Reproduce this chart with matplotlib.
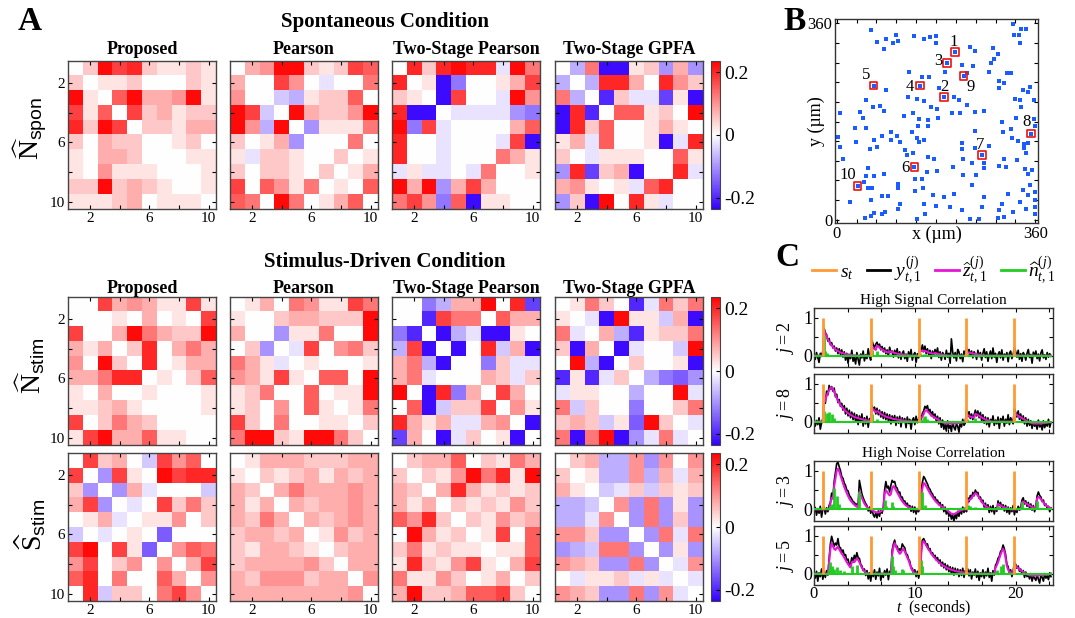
import numpy as np
import matplotlib
matplotlib.use("Agg")
import matplotlib.pyplot as plt
from matplotlib.colors import LinearSegmentedColormap
from matplotlib.lines import Line2D
from matplotlib.ticker import MultipleLocator

plt.rcParams["font.family"] = ["Liberation Serif", "DejaVu Serif"]
plt.rcParams["mathtext.fontset"] = "custom"
plt.rcParams["mathtext.rm"] = "Liberation Serif"
plt.rcParams["mathtext.it"] = "Liberation Serif:italic"
plt.rcParams["mathtext.bf"] = "Liberation Serif:bold"
plt.rcParams["mathtext.sf"] = "Liberation Sans"
plt.rcParams["mathtext.fallback"] = "stix"
plt.rcParams["axes.unicode_minus"] = False

W, H = 1075, 618

# ── A: estimated 10x10 correlation matrices ────────────────────────
# upper triangles only (row i lists columns j > i), matrices are symmetric
# with zero diagonal.  '0'..'9' -> 0 .. +0.225, 'a'..'i' -> -0.025 .. -0.225
LEVELS = {str(d): 0.025 * d for d in range(10)}
LEVELS.update({chr(96 + d): -0.025 * d for d in range(1, 10)})

N_SPON_PROPOSED = ["297821121", "11200021", "6933491", "723122", "22133", "0120", "011", "01", "1"]
N_SPON_PEARSON = ["349921276", "0740a005", "bc12260", "932249", "d1115", "0050", "201", "13", "6"]
N_SPON_TS_PEARSON = ["828988a95", "1ie00137", "i700a94", "aaaade", "00036", "0a7i", "531", "01", "0"]
N_SPON_TS_GPFA = ["c5ii12d3d", "c8830842", "h2aag1i", "661209", "01310", "1ia8", "061", "8a", "0"]

N_STIM_PROPOSED = ["073431171", "01030107", "3953229", "280353", "80133", "1026", "001", "01", "0"]
N_STIM_PEARSON = ["130541175", "02332229", "d115009", "a70452", "10001", "6609", "119", "15", "2"]
N_STIM_TS_PEARSON = ["0ec33908g", "h7550633", "icaii10", "i08b3i", "0e2aa", "32a2", "730", "41", "i"]
N_STIM_TS_GPFA = ["1520ha525", "ai911b3i", "3ch1225", "ia00b9", "2001i", "cefd", "09a", "25", "a"]

S_STIM_PROPOSED = ["7230b7460", "d7109788", "d3a000b", "a07252", "11402", "f000", "465", "37", "4"]
S_STIM_PEARSON = ["133322233", "21231323", "3533343", "323343", "32343", "1423", "233", "33", "4"]
S_STIM_TS_PEARSON = ["233602153", "21495819", "3831212", "212142", "21423", "1706", "116", "37", "2"]
S_STIM_TS_GPFA = ["23cc4d404", "1cc4c3a3", "ba2b212", "4d5d1d", "d5d2d", "d5a5", "d1d", "a4", "a"]

COL_TITLES = ["Proposed", "Pearson", "Two-Stage Pearson", "Two-Stage GPFA"]
ROW_LABELS = [r"$\widehat{\mathrm{N}}_{\mathsf{spon}}$",
              r"$\widehat{\mathrm{N}}_{\mathsf{stim}}$",
              r"$\widehat{\mathrm{S}}_{\mathsf{stim}}$"]
MATRICES = [
    [N_SPON_PROPOSED, N_SPON_PEARSON, N_SPON_TS_PEARSON, N_SPON_TS_GPFA],
    [N_STIM_PROPOSED, N_STIM_PEARSON, N_STIM_TS_PEARSON, N_STIM_TS_GPFA],
    [S_STIM_PROPOSED, S_STIM_PEARSON, S_STIM_TS_PEARSON, S_STIM_TS_GPFA],
]

# ── B: neuron positions (um) ─────────────────────────────────────
CELL_X = [319, 62, 141, 108, 159, 169, 180, 180, 90, 74, 103, 111, 85, 322, 335, 344, 332, 241,
          251, 283, 292, 215, 200, 227, 247, 286, 280, 277, 197, 230, 236, 131, 154, 167, 67, 90,
          151, 185, 195, 295, 295, 309, 316, 304, 337, 347, 351, 129, 145, 159, 171, 182, 54, 65,
          79, 86, 6, 42, 47, 212, 222, 236, 209, 223, 250, 267, 138, 122, 150, 165, 183, 323, 333,
          334, 325, 358, 358, 33, 35, 3, 6, 54, 68, 83, 98, 109, 99, 114, 61, 74, 12, 137, 146, 150,
          147, 166, 159, 124, 139, 127, 250, 227, 227, 229, 245, 251, 299, 316, 301, 318, 328, 352,
          359, 277, 263, 339, 346, 339, 344, 141, 165, 177, 163, 182, 211, 38, 56, 54, 50, 68, 86,
          142, 154, 112, 112, 268, 268, 252, 229, 246, 295, 307, 327, 342, 346, 350, 355, 304, 56,
          64, 62, 82, 93, 25, 51, 68, 62, 82, 88, 115, 112, 142, 145, 157, 159, 161, 174, 180, 195,
          212, 206, 228, 242, 258, 263, 267, 295, 292, 299, 304, 310, 319, 332, 337, 344, 347, 359,
          359, 359, 359, 331]
CELL_Y = [359, 348, 336, 338, 332, 335, 336, 324, 332, 325, 324, 327, 313, 339, 349, 349, 324, 317,
          309, 315, 303, 307, 287, 284, 281, 295, 287, 270, 270, 263, 269, 270, 262, 262, 246, 238,
          246, 241, 225, 254, 241, 269, 269, 251, 238, 235, 244, 225, 222, 217, 206, 203, 220, 207,
          209, 199, 196, 198, 187, 225, 220, 211, 195, 195, 198, 199, 196, 191, 184, 183, 186, 222,
          220, 207, 186, 219, 185, 168, 143, 151, 133, 169, 147, 154, 160, 154, 146, 142, 129, 133,
          112, 160, 149, 143, 172, 171, 147, 128, 122, 119, 162, 141, 129, 112, 104, 132, 179, 166,
          161, 149, 145, 158, 171, 135, 119, 139, 141, 132, 122, 97, 115, 112, 88, 90, 97, 62, 95,
          80, 70, 80, 83, 74, 74, 66, 58, 104, 94, 82, 82, 64, 98, 97, 109, 93, 84, 63, 91, 111, 58,
          58, 37, 43, 43, 33, 4, 12, 7, 10, 14, 29, 20, 53, 2, 58, 29, 10, 45, 25, 41, 48, 23, 17, 2,
          2, 23, 42, 17, 3, 29, 5, 47, 15, 33, 55, 20, 45, 51, 23, 11, 36, 338]

NEURON_ID = [1, 2, 3, 4, 5, 6, 7, 8, 9, 10]
NEURON_X = [215, 195, 200, 151, 67, 141, 263, 352, 230, 38]
NEURON_Y = [307, 225, 287, 246, 246, 97, 119, 158, 263, 62]
# label offsets in pixels (dx right, dy down)
NEURON_LABEL_OFF = [(-2, -10), (0, -10), (-9, -2), (-10, 1), (-7, -11),
                    (-9, 1), (-2, -10), (-4, -12), (7, 11), (-10, -11)]

# ── C: traces on a 0.125 s grid, values in hundredths ───────────────
DT = 0.125
STIM_T = [0.9, 5.65, 10.4, 15.1, 19.8]

Y_J2 = [3, -10, 8, -5, -18, 6, -2, 12,
        72, 60, 55, 38, 45, 28, 34, 20,
        25, 12, 20, 5, 18, 3, 15, -4,
        10, -12, 6, -20, 3, -8, 14, -15,
        -5, -22, 8, -10, -25, 4, -6, 12,
        -14, 2, -8, 18, -3, -12, 40, 28,
        22, 30, 35, 25, 30, 15, 24, 10,
        20, 5, 15, -2, 22, 8, 12, -4,
        14, 2, 18, -6, 10, -10, 6, 12,
        -8, 4, -15, 10, -3, 16, -12, 2,
        8, -18, 5, -6, 20, 15, 28, 10,
        25, 5, 18, 2, 14, -8, 12, 0,
        16, 4, 20, -5, 10, -12, 8, 3,
        -10, 14, -4, 6, -20, 44, 10, -6,
        8, -14, 16, 10, -8, 4, -16, 12,
        -2, 22, 8, 16, 0, 12, -6, 10,
        4, -10, 14, -3, 8, -12, 6, 18,
        -5, 10, -15, 2, 12, -8, 20, -4,
        6, -18, 3, 10, -6, 15, -12, 4,
        -3, 8, -16, 6, 12, -8, 3, 22,
        10, -4, 14, -10, 5, -15, 8, 2,
        -12, 6, 16, -5, 3, -20, 9, -2,
        12, -8, 4, -14, 7, 15, -6, 2,
        -10, 8, -4, 5, -2]
Z_J2 = [0, 0, 0, 0, 0, 0, 0, 0,
        65, 58, 50, 43, 37, 31, 27, 23,
        19, 16, 14, 12, 10, 8, 7, 6,
        5, 4, 3, 3, 2, 2, 1, 1,
        1, 0, 0, 0, 0, 0, 0, 0,
        0, 0, 0, 0, 0, 0, 22, 20,
        17, 15, 26, 24, 21, 18, 16, 14,
        12, 10, 9, 8, 11, 10, 9, 8,
        7, 6, 5, 4, 4, 3, 3, 2,
        2, 1, 1, 1, 0, 0, 0, 0,
        0, 0, 0, 0, 13, 12, 11, 13,
        12, 11, 10, 8, 7, 6, 5, 5,
        7, 6, 5, 4, 3, 3, 2, 2,
        1, 1, 0, 0, 0, 0, 0, 0,
        0, 0, 0, 0, 0, 0, 0, 0,
        0, 10, 9, 8, 7, 6, 5, 5,
        4, 3, 3, 2, 2, 1, 1, 0,
        0, 0, 0, 0, 0, 0, 0, 0,
        0, 0, 0, 0, 0, 0, 0, 0,
        0, 0, 0, 0, 0, 0, 0, 2,
        2, 1, 1, 0, 0, 0, 0, 0,
        0, 0, 0, 0, 0, 0, 0, 0,
        0, 0, 0, 0, 0, 0, 0, 0,
        0, 0, 0, 0, 0]
N_J2_T = [1.0, 1.125, 1.25, 5.75, 6.25, 7.5, 10.5, 10.875, 12.0, 15.125, 19.875]
N_J2_H = [0.55, 0.12, 0.08, 0.15, 0.12, 0.05, 0.08, 0.05, 0.04, 0.07, 0.03]

Y_J8 = [5, -12, 3, -8, 10, -20, -4, 8,
        55, 48, 80, 70, 95, 85, 92, 80,
        88, 65, 72, 50, 58, 40, 48, 30,
        42, 20, 35, 15, 30, 10, 25, 5,
        22, 0, 18, -8, 15, -2, 20, -12,
        10, -6, 14, -15, 8, 2, 42, 30,
        38, 20, 35, 18, 30, 12, 26, 8,
        24, 5, 20, 2, 18, -6, 15, 0,
        16, -10, 12, -4, 14, -14, 10, -2,
        8, -16, 12, -5, 6, -20, 4, 10,
        -8, 14, -3, 6, 15, 5, 22, 28,
        40, 35, 42, 25, 32, 15, 26, 10,
        20, 2, 14, -6, 10, -15, 4, -20,
        -8, -25, 2, -18, -10, -26, 0, -15,
        -22, -6, -12, -28, -2, -14, 6, -10,
        -4, 30, 12, 26, 8, 20, 5, 18,
        30, 15, 28, 10, 24, 2, 18, -4,
        12, -8, 10, -14, 6, -2, 15, -10,
        4, -6, 12, -18, 8, 0, 14, -12,
        6, -4, 18, -8, 10, 3, -6, 34,
        24, 12, 28, 6, 20, -2, 15, -6,
        10, -12, 6, -10, 2, -18, 0, -12,
        -6, -20, 4, -14, -8, -22, 2, -16,
        -4, -12, 6, -15, -2]
Z_J8 = [0, 0, 0, 0, 0, 0, 0, 0,
        50, 55, 68, 75, 82, 88, 90, 86,
        78, 70, 62, 55, 49, 44, 39, 35,
        31, 28, 25, 22, 20, 18, 16, 14,
        12, 11, 10, 9, 8, 7, 6, 5,
        4, 4, 3, 3, 2, 2, 35, 32,
        28, 25, 27, 26, 23, 20, 18, 16,
        15, 13, 12, 11, 10, 9, 8, 7,
        6, 6, 5, 5, 4, 4, 3, 3,
        2, 2, 1, 1, 1, 0, 0, 0,
        0, 0, 0, 0, 8, 10, 12, 20,
        28, 30, 27, 24, 20, 17, 14, 12,
        10, 8, 6, 4, 2, 0, -2, -3,
        -4, -5, -5, -5, -5, -5, -5, -5,
        -5, -4, -4, -4, -3, -3, -2, -2,
        -1, 18, 17, 15, 13, 12, 11, 10,
        20, 19, 17, 15, 13, 11, 9, 7,
        5, 4, 3, 2, 1, 0, 0, 0,
        0, 0, 0, 0, 0, 0, 0, 0,
        0, 0, 0, 0, 0, 0, 0, 22,
        20, 17, 15, 13, 11, 9, 7, 5,
        3, 1, 0, -2, -3, -4, -5, -5,
        -5, -5, -5, -5, -5, -4, -4, -4,
        -3, -3, -2, -2, -2]
N_J8_T = [1.0, 1.25, 1.5, 1.75, 2.0, 5.75, 6.25, 10.625, 10.875, 11.0, 11.25, 15.125, 16.0, 19.875]
N_J8_H = [0.28, 0.22, 0.25, 0.2, 0.1, 0.2, 0.08, 0.08, 0.12, 0.15, 0.06, 0.08, 0.1, 0.25]

Y_J3 = [-8, 5, -15, 2, -10, 8, -20, 0,
        6, -12, 4, -6, 10, 18, 42, 30,
        72, 95, 118, 122, 110, 100, 85, 80,
        68, 62, 50, 48, 36, 32, 26, 20,
        18, 12, 14, 8, 75, 58, 40, 30,
        22, 15, 10, -4, 6, -10, 2, -14,
        -20, -8, -22, -4, -18, 0, -10, 6,
        50, 72, 55, 60, 45, 62, 75, 70,
        72, 58, 55, 42, 45, 30, 32, 20,
        22, 12, 16, 4, 10, -5, 8, -8,
        6, -12, 2, -6, 8, 48, 70, 85,
        80, 72, 66, 56, 52, 44, 40, 30,
        32, 22, 24, 12, 18, 4, 12, -6,
        6, -12, 0, -18, -8, -25, -15, -30,
        -12, -24, -5, -18, 2, -12, 6, -8,
        4, -6, 30, 20, 36, 28, 44, 35,
        50, 42, 44, 28, 32, 18, 24, 6,
        16, 0, 12, -8, 8, -6, 10, -12,
        4, -5, 22, 10, 18, 2, 12, -4,
        10, -8, 6, -12, 4, -6, 10, -14,
        2, -8, 8, -2, 6, 24, 30, 14,
        22, 8, 18, 4, 14, -2, 10, -6,
        8, 35, 45, 36, 32, 20, 24, 10,
        14, 2, 8, -6, 4]
Z_J3 = [0, 0, 0, 0, 0, 0, 0, 0,
        0, 0, 0, 0, 0, 15, 30, 28,
        60, 80, 100, 105, 98, 88, 78, 68,
        58, 50, 42, 35, 28, 23, 19, 15,
        12, 9, 7, 6, 45, 40, 30, 22,
        15, 10, 6, 3, 1, 0, -2, -4,
        -6, -7, -8, -8, -7, -5, -3, -1,
        40, 50, 45, 40, 36, 40, 55, 60,
        56, 50, 44, 38, 32, 26, 21, 17,
        13, 10, 8, 6, 4, 3, 2, 1,
        0, 0, 0, 0, 0, 35, 55, 68,
        66, 60, 54, 48, 42, 37, 32, 27,
        23, 19, 16, 13, 10, 8, 6, 4,
        2, 0, -3, -6, -9, -11, -12, -12,
        -11, -9, -7, -5, -3, -2, -1, 0,
        0, 0, 22, 24, 26, 30, 34, 38,
        42, 40, 35, 30, 25, 20, 16, 12,
        9, 7, 5, 3, 2, 1, 0, 0,
        0, 0, 14, 12, 10, 8, 6, 5,
        4, 3, 2, 1, 0, 0, 0, 0,
        0, 0, 0, 0, 0, 18, 20, 18,
        16, 14, 12, 10, 8, 6, 5, 4,
        3, 28, 32, 30, 26, 22, 18, 14,
        11, 8, 6, 4, 3]
N_J3_T = [1.625, 1.75, 2.0, 2.25, 2.5, 4.5, 7.0, 7.125, 7.75, 7.875, 10.625, 10.75, 11.0,
          15.25, 15.5, 16.0, 18.25, 20.625, 22.125]
N_J3_H = [0.1, 0.15, 0.55, 0.35, 0.15, 0.45, 0.25, 0.1, 0.18, 0.1, 0.25, 0.45, 0.12,
          0.12, 0.08, 0.06, 0.1, 0.2, 0.22]

Y_J5 = [4, -12, 6, -20, 2, -8, 12, -15,
        5, -10, 8, -4, 40, 78, 98, 85,
        72, 80, 75, 92, 70, 68, 55, 62,
        48, 50, 35, 38, 22, 26, 42, 30,
        48, 38, 55, 42, 40, 25, 20, 8,
        12, -5, 8, -14, 2, -20, 6, -8,
        10, -15, 4, -6, 14, -18, 0, -10,
        8, -4, 12, -16, 6, -2, 62, 78,
        88, 70, 72, 58, 65, 60, 78, 72,
        68, 52, 50, 38, 32, 15, 14, 0,
        10, -8, 6, -12, 4, 62, 88, 92,
        85, 75, 78, 62, 66, 52, 55, 44,
        48, 36, 42, 28, 36, 20, 30, 15,
        26, 10, 22, 5, 18, 0, 16, -4,
        14, -2, 12, -8, 10, -5, 14, -10,
        8, 0, 12, -6, 10, -14, 4, -4,
        12, -10, 6, -18, 2, -8, 10, -12,
        4, -6, 14, -10, 2, -20, 8, -4,
        22, 28, 40, 45, 58, 62, 75, 65,
        50, 25, 18, 2, 10, -8, 6, 30,
        24, 14, 20, 6, 12, -2, 8, -10,
        4, -8, -2, -14, 0, -20, -6, -12,
        -18, -2, -15, -25, -4, -10, -20, 0,
        -12, -6, -16, 2, -8]
Z_J5 = [0, 0, 0, 0, 0, 0, 0, 0,
        0, 0, 0, 0, 30, 65, 80, 72,
        65, 62, 68, 70, 64, 58, 52, 48,
        42, 36, 30, 25, 20, 16, 30, 32,
        30, 35, 40, 36, 30, 22, 15, 10,
        6, 3, 1, 0, 0, 0, 0, 0,
        0, 0, 0, 0, 0, 0, 0, 0,
        0, 0, 0, 0, 0, 0, 50, 70,
        80, 72, 64, 58, 52, 55, 62, 65,
        58, 50, 42, 35, 25, 15, 8, 4,
        2, 1, 0, 0, 0, 50, 80, 85,
        80, 74, 68, 63, 58, 53, 48, 44,
        40, 36, 33, 30, 27, 24, 22, 20,
        18, 16, 14, 13, 11, 10, 9, 8,
        7, 6, 5, 5, 4, 4, 3, 3,
        2, 2, 2, 1, 1, 0, 0, 0,
        0, 0, 0, 0, 0, 0, 0, 0,
        0, 0, 0, 0, 0, 0, 0, 0,
        15, 22, 30, 40, 50, 58, 65, 58,
        40, 20, 10, 5, 3, 2, 1, 22,
        20, 17, 14, 11, 8, 6, 4, 2,
        0, -2, -3, -4, -5, -5, -5, -5,
        -5, -5, -5, -4, -4, -4, -3, -3,
        -3, -2, -2, -1, 0]
N_J5_T = [1.5, 1.625, 1.75, 2.0, 2.25, 2.625, 3.0, 3.75, 4.25, 7.75, 7.875, 8.0, 8.75, 8.875,
          10.625, 10.75, 18.125, 18.5, 18.75, 19.875]
N_J5_H = [0.12, 0.3, 0.2, 0.12, 0.18, 0.1, 0.08, 0.2, 0.22, 0.45, 0.2, 0.1, 0.12, 0.1,
          0.35, 0.2, 0.1, 0.2, 0.25, 0.2]

TRACES = [("j=2", Y_J2, Z_J2, N_J2_T, N_J2_H),
          ("j=8", Y_J8, Z_J8, N_J8_T, N_J8_H),
          ("j=3", Y_J3, Z_J3, N_J3_T, N_J3_H),
          ("j=5", Y_J5, Z_J5, N_J5_T, N_J5_H)]

ORANGE = "#ff9933"
MAGENTA = "#e815d8"
GREEN = "#22cc22"
CELL_BLUE = "#1a5cff"


def decode(rows):
    m = np.zeros((10, 10))
    for i, s in enumerate(rows):
        for k, ch in enumerate(s):
            j = i + 1 + k
            m[i, j] = m[j, i] = LEVELS[ch]
    return m


def px_axes(fig, x0, y0, x1, y1):
    return fig.add_axes([x0 / W, 1 - y1 / H, (x1 - x0) / W, (y1 - y0) / H])


def frame(ax, color="#333333"):
    for sp in ax.spines.values():
        sp.set_color(color)
        sp.set_linewidth(1.0)


fig = plt.figure(figsize=(W / 100, H / 100), dpi=100)

# ── panel A ──────────────────────────────────────────────────────
cmap = LinearSegmentedColormap.from_list("bwr_sharp", ["#3300ff", "#ffffff", "#ff0000"])
VMAX = 0.235
COL_X = [(68, 216), (230, 378), (392, 540), (555, 703)]
ROW_Y = [(61, 209), (297, 445), (453, 601)]
ROW_LABEL_Y = [128, 366, 525]

for r, (y0, y1) in enumerate(ROW_Y):
    for c, (x0, x1) in enumerate(COL_X):
        ax = px_axes(fig, x0, y0, x1, y1)
        im = ax.imshow(decode(MATRICES[r][c]), cmap=cmap, vmin=-VMAX, vmax=VMAX,
                       extent=(0.5, 10.5, 10.5, 0.5), aspect="auto", interpolation="nearest")
        ax.set_xticks([2, 6, 10])
        ax.set_yticks([2, 6, 10])
        ax.set_xticks([4, 8], minor=True)
        ax.set_yticks([4, 8], minor=True)
        ax.tick_params(which="both", direction="in", top=True, right=True, length=3,
                       width=0.8, labelsize=11, pad=2,
                       labelbottom=(r != 1), labelleft=(c == 0))
        frame(ax, "#444444")
        if r < 2:
            ax.set_title(COL_TITLES[c], fontsize=13, fontweight="bold", pad=5 if r == 0 else 3)
    cax = px_axes(fig, 711, y0, 720, y1)
    cb = fig.colorbar(im, cax=cax, ticks=[-0.2, 0, 0.2])
    cb.ax.set_yticklabels(["-0.2", "0", "0.2"])
    cb.ax.tick_params(direction="in", length=3, width=0.8, labelsize=14, pad=3)
    cb.outline.set_edgecolor("#444444")
    fig.text(30 / W, 1 - ROW_LABEL_Y[r] / H, ROW_LABELS[r], rotation=90,
             ha="center", va="center", fontsize=20)

fig.text(385 / W, 1 - 22 / H, "Spontaneous Condition", ha="center", va="center",
         fontsize=15, fontweight="bold")
fig.text(385 / W, 1 - 262 / H, "Stimulus-Driven Condition", ha="center", va="center",
         fontsize=15, fontweight="bold")

fig.text(30 / W, 1 - 22 / H, "A", ha="center", va="center", fontsize=24, fontweight="bold")
fig.text(795 / W, 1 - 22 / H, "B", ha="center", va="center", fontsize=24, fontweight="bold")
fig.text(787 / W, 1 - 258 / H, "C", ha="center", va="center", fontsize=24, fontweight="bold")

# ── panel B: cell layout ────────────────────────────────────────
axb = px_axes(fig, 835, 19, 1038, 223)
axb.scatter(CELL_X, CELL_Y, s=5, marker="s", color=CELL_BLUE, linewidths=0, zorder=2)
axb.scatter(NEURON_X, NEURON_Y, s=30, marker="s", facecolors="none",
            edgecolors="#ee1111", linewidths=1.2, zorder=3)
for nid, x, y, (dx, dy) in zip(NEURON_ID, NEURON_X, NEURON_Y, NEURON_LABEL_OFF):
    axb.annotate(str(nid), (x, y), xytext=(dx * 0.72, -dy * 0.72), textcoords="offset points",
                 ha="center", va="center", fontsize=12)
axb.set_xlim(-3, 365)
axb.set_ylim(-6, 368)
axb.set_xticks([0, 360])
axb.set_yticks([0, 360])
axb.xaxis.set_minor_locator(MultipleLocator(36))
axb.yaxis.set_minor_locator(MultipleLocator(36))
axb.tick_params(which="both", direction="in", top=True, right=True, length=3, width=0.8,
                labelsize=12, pad=2)
axb.set_xlabel("x (\u00b5m)", fontsize=13)
axb.set_ylabel("y (\u00b5m)", fontsize=13)
axb.xaxis.set_label_coords(0.5, -0.015)
axb.yaxis.set_label_coords(-0.05, 0.5)
frame(axb)

# ── panel C: example traces ─────────────────────────────────────
C_ROWS = [(308, 367), (374, 433), (461, 521), (526, 585)]
for i, ((y0, y1), (lab, yv, zv, nt, nh)) in enumerate(zip(C_ROWS, TRACES)):
    ax = px_axes(fig, 814, y0, 1053, y1)
    t = np.arange(len(yv)) * DT
    ax.plot(t, np.array(yv) / 100, color="black", lw=1.2, zorder=2)
    ax.plot(t, np.array(zv) / 100, color=MAGENTA, lw=1.5, zorder=3)
    ax.plot([t[0], t[-1]], [0, 0], color=GREEN, lw=1.5, zorder=4)
    ax.vlines(nt, 0, nh, color=GREEN, lw=2.0, zorder=4)
    ax.vlines(STIM_T, 0, 1, color=ORANGE, lw=2.0, zorder=5)
    ax.set_xlim(0, 23.7)
    ax.set_ylim(-0.3, 1.25)
    ax.set_xticks([0, 10, 20])
    ax.xaxis.set_minor_locator(MultipleLocator(10 / 3))
    ax.set_yticks([0, 1])
    ax.yaxis.set_minor_locator(MultipleLocator(0.5))
    ax.tick_params(which="both", direction="in", top=True, right=True, length=3, width=0.8,
                   labelsize=13, pad=1, labelbottom=(i == 3))
    ax.tick_params(axis="x", labelsize=12, pad=1)
    ax.set_ylabel("$" + lab.replace("=", " = ") + "$", fontsize=13)
    ax.yaxis.set_label_coords(-0.075, 0.5)
    frame(ax)
    if i == 0:
        ax.set_title("High Signal Correlation", fontsize=11, pad=3)
    if i == 2:
        ax.set_title("High Noise Correlation", fontsize=11, pad=3)
    if i == 3:
        ax.set_xlabel(r"$t$  (seconds)", fontsize=11.5)
        ax.xaxis.set_label_coords(0.5, -0.24)

handles = [Line2D([], [], color=ORANGE, lw=2), Line2D([], [], color="black", lw=2),
           Line2D([], [], color=MAGENTA, lw=2), Line2D([], [], color=GREEN, lw=2)]
labels = [r"$s_t$", r"$y_{t,1}^{(j)}$", r"$\widehat{z}_{t,1}^{(j)}$", r"$\widehat{n}_{t,1}^{(j)}$"]
fig.legend(handles, labels, loc="center", bbox_to_anchor=(934 / W, 1 - 270 / H), ncol=4,
           frameon=False, fontsize=14, handlelength=1.2, handletextpad=0.2, columnspacing=0.7)

fig.savefig("out.png", dpi=100)
